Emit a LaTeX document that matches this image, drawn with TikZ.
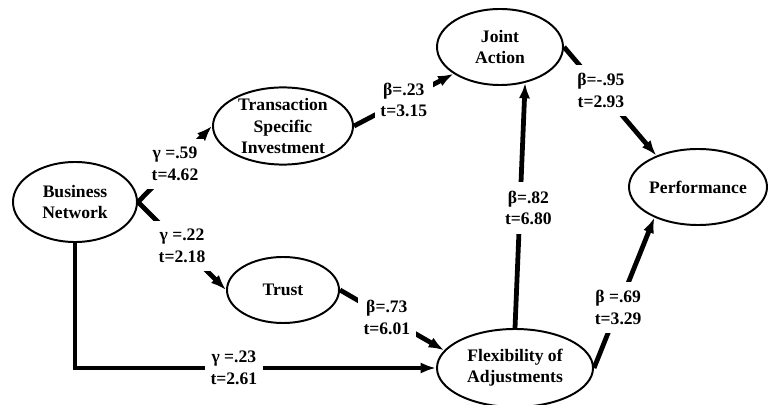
\documentclass[tikz,border=0pt]{standalone}
\usepackage{fontspec}
\setmainfont{Liberation Serif}
\usetikzlibrary{arrows.meta,shapes.geometric}
\begin{document}
\begin{tikzpicture}[x=0.025cm, y=-0.025cm,
    ell/.style={draw, ellipse, line width=1.4pt, align=center,
                font=\fontsize{12.5}{15}\selectfont\bfseries, inner sep=0pt},
    link/.style={line width=3.4pt, -{Latex[length=11pt,width=8pt]}},
    coef/.style={fill=white, align=center, inner xsep=4pt, inner ysep=6pt,
                 font=\fontsize{12.5}{15.5}\selectfont\bfseries}]
        \useasboundingbox (0,0) rectangle (780,405);                                   %
        \node [ell, minimum width=3.1cm,  minimum height=2.0cm]  (bn)    at (75,202)  {\fontsize{12.5}{11}\selectfont Business\\Network};
        \node [ell, minimum width=3.5cm,  minimum height=1.8cm]  (tsi)   at (283,126) {\fontsize{12.5}{10.5}\selectfont Transaction\\Specific\\Investment};
        \node [ell, minimum width=3.15cm, minimum height=1.9cm]  (ja)    at (500,47)  {Joint\\Action};
        \node [ell, minimum width=3.1cm,  minimum height=1.9cm]  (perf)  at (698,187) {Performance};
        \node [ell, minimum width=2.8cm,  minimum height=1.65cm] (trust) at (283,290) {Trust};
        \node [ell, minimum width=3.9cm,  minimum height=1.95cm] (foa)   at (515,368) {Flexibility of\\Adjustments};
        %
        \draw [link] (bn.east)   -- node[coef]          {γ =.59\\t=4.62} (tsi.west);                 %
        \draw [link] (bn.east)   -- node[coef]          {γ =.22\\t=2.18} (trust.west);               %
        \draw [link] (bn.south)  |- node[coef, pos=.72] {γ =.23\\t=2.61} (foa.west);                 %
        \draw [link] (tsi.east)  -- node[coef]          {β=.23\\t=3.15} (ja.210);                    %
        \draw [link] (trust.east)-- node[coef, pos=.45] {β=.73\\t=6.01} (foa.166);                   %
        \draw [link] (foa.north) -- node[coef, pos=.49, xshift=6pt] {β=.82\\t=6.80} (ja.305);       %
        \draw [link] (ja.east)   -- node[coef, pos=.4]  {β=-.95\\t=2.93} (perf.143);                 %
        \draw [link] (foa.east)  -- node[coef, pos=.4]  {β =.69\\t=3.29} (perf.215);                 %
\end{tikzpicture}
\end{document}
